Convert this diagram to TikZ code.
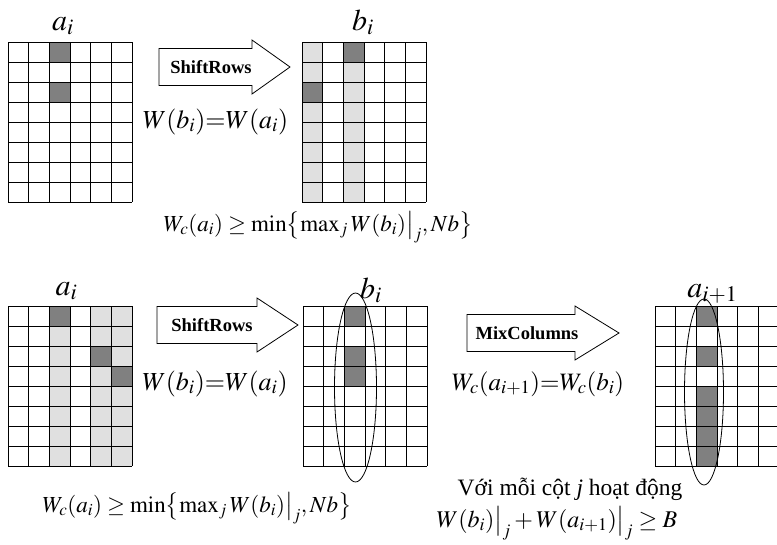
\documentclass[tikz,border=0pt]{standalone}
\usepackage{mathptmx}
\usepackage{fontspec}
\setmainfont{Liberation Serif}
\usetikzlibrary{shapes.geometric}

\tikzset{
  tab/.style={x=20.67pt, y=-20pt},
  tabline/.style={line width=0.7pt, draw=black},
  darkcell/.style={fill=black!50},
  lightcell/.style={fill=black!12},
  opbox/.style={draw, line width=0.8pt, fill=white},
  optext/.style={font=\fontsize{18.5}{20}\selectfont\bfseries, inner sep=0pt},
  formula/.style={font=\fontsize{26}{29}\selectfont, inner sep=0pt, anchor=base},
  bound/.style={formula, font=\fontsize{23}{26}\selectfont},
  tabname/.style={font=\fontsize{30}{32}\selectfont, inner sep=0pt, anchor=base},
  ring/.style={draw, ellipse, line width=0.8pt, inner sep=0pt}
}

\newcommand{\tabgrid}{%
  \foreach \col in {0,...,6} {\draw[tabline] (\col,0) -- (\col,8);}
  \foreach \row in {0,...,8} {\draw[tabline] (0,\row) -- (6,\row);}
}

\begin{document}
\begin{tikzpicture}[x=1pt, y=-1pt]
  \useasboundingbox (0,0) rectangle (777,544);

  % top row: a_i --ShiftRows--> b_i
  \begin{scope}[shift={(8,42)}, tab]
    \fill[darkcell] (2,0) rectangle (3,1);
    \fill[darkcell] (2,2) rectangle (3,3);
    \tabgrid
  \end{scope}
  \node[tabname] (atop) at (63,30) {$a_i$};

  \draw[opbox] (159,48.5) -- (252,48.5) -- (252,40) -- (290,67) -- (252,94) -- (252,85.5) -- (159,85.5) -- cycle;
  \node[optext] (shifttop) at (211,67) {ShiftRows};
  \node[formula] (eqtop) at (215.5,128) {$W(b_i){=}W(a_i)$};

  \begin{scope}[shift={(302,42)}, tab]
    \fill[lightcell] (0,0) rectangle (1,8);
    \fill[lightcell] (2,0) rectangle (3,8);
    \fill[darkcell] (2,0) rectangle (3,1);
    \fill[darkcell] (0,2) rectangle (1,3);
    \tabgrid
  \end{scope}
  \node[tabname] (btop) at (363,30) {$b_i$};

  \node[bound] (boundtop) at (318,231) {$W_c(a_i)\geq\min\bigl\{\max_j W(b_i)\bigr|_j, Nb\bigr\}$};

  % bottom row: a_i --ShiftRows--> b_i --MixColumns--> a_{i+1}
  \begin{scope}[shift={(8,306)}, tab]
    \fill[lightcell] (2,0) rectangle (3,8);
    \fill[lightcell] (4,0) rectangle (6,8);
    \fill[darkcell] (2,0) rectangle (3,1);
    \fill[darkcell] (4,2) rectangle (5,3);
    \fill[darkcell] (5,3) rectangle (6,4);
    \tabgrid
  \end{scope}
  \node[tabname] (abot) at (66.5,295) {$a_i$};

  \draw[opbox] (157,306.5) -- (257,306.5) -- (257,298) -- (298,325) -- (257,352) -- (257,343.5) -- (157,343.5) -- cycle;
  \node[optext] (shiftbot) at (212,325) {ShiftRows};
  \node[formula] (eqbot) at (215,390) {$W(b_i){=}W(a_i)$};

  \begin{scope}[shift={(303,306)}, tab]
    \fill[darkcell] (2,0) rectangle (3,1);
    \fill[darkcell] (2,2) rectangle (3,4);
    \tabgrid
  \end{scope}
  \node[ring, minimum width=42, minimum height=189] (colb) at (355.5,387.5) {};
  \node[tabname] (bbot) at (371,298) {$b_i$};

  \draw[opbox] (467,314.5) -- (575,314.5) -- (575,306) -- (619,333) -- (575,360) -- (575,351.5) -- (467,351.5) -- cycle;
  \node[optext] (mixcol) at (527,333) {MixColumns};
  \node[formula, font=\fontsize{25}{28}\selectfont] (eqmix) at (538,390) {$W_c(a_{i+1}){=}W_c(b_i)$};

  \begin{scope}[shift={(655,306)}, tab]
    \fill[darkcell] (2,0) rectangle (3,1);
    \fill[darkcell] (2,2) rectangle (3,3);
    \fill[darkcell] (2,4) rectangle (3,8);
    \tabgrid
  \end{scope}
  \node[ring, minimum width=39, minimum height=186] (cola) at (704,392) {};
  \node[tabname] (anext) at (712.5,297) {$a_{i+1}$};

  \node[bound] (boundbot) at (197,512) {$W_c(a_i)\geq\min\bigl\{\max_j W(b_i)\bigr|_j, Nb\bigr\}$};
  \node[formula, font=\fontsize{23.5}{26}\selectfont] (active) at (570,495) {Với mỗi cột \textit{j} hoạt động};
  \node[formula, font=\fontsize{24}{27}\selectfont] (sumcol) at (557,527) {$W(b_i)\bigr|_j + W(a_{i+1})\bigr|_j \geq B$};
\end{tikzpicture}
\end{document}
